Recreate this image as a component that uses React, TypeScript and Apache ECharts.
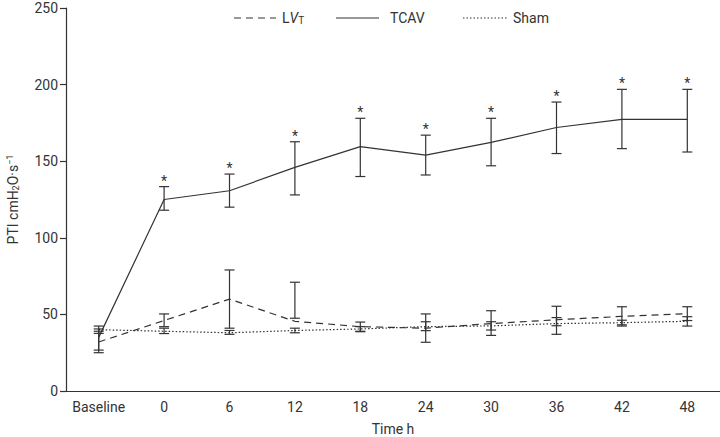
import React, { useEffect, useRef } from "react";
import * as echarts from "echarts";

const categories = ["Baseline", "0", "6", "12", "18", "24", "30", "36", "42", "48"];
const yTicks = [0, 50, 100, 150, 200, 250];

const lvtMean = [32, 46, 60, 45.5, 42, 41, 44, 46.5, 48.7, 50.5];
const lvtLow = [25, 42, 41, 47.5, 39, 31.8, 36.3, 37, 42.4, 46];
const lvtHigh = [39, 50.3, 79, 71, 45, 50.3, 52.4, 55.3, 55, 55];

const tcavMean = [35, 125, 130.7, 146, 159.5, 154, 162.3, 172, 177.3, 177.3];
const tcavLow = [26.7, 118, 120, 128, 140, 141, 147, 155, 158.2, 156];
const tcavHigh = [40.5, 133.4, 141.6, 162.7, 178, 167, 178, 188.6, 196.9, 196.9];

const shamMean = [40, 39, 38, 39.5, 40.5, 42, 42.5, 44, 44.6, 45.5];
const shamLow = [37.6, 37.5, 37, 38, 38.7, 39.4, 39.8, 42.6, 43.2, 42.4];
const shamHigh = [42.4, 41, 39.5, 41, 42, 45.2, 45.2, 47.9, 46.2, 48.5];

const tcavSignificant = [false, true, true, true, true, true, true, true, true, true];

const INK = "#333333";
const FONT = "Roboto";
const LVT_DASH = [7, 5];
const SHAM_DASH = [1.5, 2];

function errorSeries(name: string, low: number[], high: number[], stars?: boolean[]) {
  return {
    type: "custom",
    name: name + "-err",
    z: 5,
    silent: true,
    data: low.map((l, i) => [i, l, high[i], stars && stars[i] ? 1 : 0]),
    renderItem: (params: any, api: any) => {
      const x = api.value(0);
      const lo = api.coord([x, api.value(1)]);
      const hi = api.coord([x, api.value(2)]);
      const hw = 5;
      const style = { stroke: INK, lineWidth: 1.2 };
      const children: any[] = [
        { type: "line", shape: { x1: lo[0], y1: lo[1], x2: hi[0], y2: hi[1] }, style },
        { type: "line", shape: { x1: lo[0] - hw, y1: lo[1], x2: lo[0] + hw, y2: lo[1] }, style },
        { type: "line", shape: { x1: hi[0] - hw, y1: hi[1], x2: hi[0] + hw, y2: hi[1] }, style },
      ];
      if (api.value(3) === 1) {
        children.push({
          type: "text",
          style: {
            text: "*",
            x: hi[0],
            y: hi[1] - 6,
            align: "center",
            verticalAlign: "middle",
            fill: INK,
            font: `14px ${FONT}`,
          },
        });
      }
      return { type: "group", children };
    },
  };
}

function legendItem(x1: number, x2: number, dash: any, textX: number, text: string, rich?: any) {
  const y = 18;
  return [
    {
      type: "line",
      shape: { x1, y1: y, x2, y2: y },
      style: { stroke: INK, lineWidth: 1.2, lineDash: dash },
    },
    {
      type: "text",
      x: textX,
      y,
      style: {
        text,
        fill: INK,
        font: `14px ${FONT}`,
        verticalAlign: "middle",
        align: "left",
        rich,
      },
    },
  ];
}

export default function App() {
  const ref = useRef<HTMLDivElement>(null);
  useEffect(() => {
    if (!ref.current) return;
    const chart = echarts.init(ref.current, undefined, { renderer: "svg" });
    chart.setOption({
      animation: false,
      textStyle: { fontFamily: FONT, color: INK },
      grid: { left: 66, right: 0, top: 8, bottom: 46, outerBoundsMode: "none", containLabel: false },
      graphic: [
        ...legendItem(234, 276, LVT_DASH, 282, "{n|L}{i|V}{s|T}", {
          n: { fontFamily: FONT, fontSize: 14, fill: INK },
          i: { fontFamily: FONT, fontSize: 14, fill: INK, fontStyle: "italic" },
          s: { fontFamily: FONT, fontSize: 10, fill: INK, verticalAlign: "bottom", padding: [4, 0, 0, 0] },
        }),
        ...legendItem(336, 379, null, 390, "TCAV"),
        ...legendItem(463, 507, SHAM_DASH, 513, "Sham"),
      ],
      xAxis: {
        type: "category",
        data: categories,
        boundaryGap: true,
        name: "Time h",
        nameLocation: "middle",
        nameGap: 31,
        nameTextStyle: { fontFamily: FONT, fontSize: 14, color: INK },
        axisLine: { lineStyle: { color: INK, width: 1.2 } },
        axisTick: { alignWithLabel: true, length: 6, lineStyle: { color: INK, width: 1.2 } },
        axisLabel: { fontFamily: FONT, fontSize: 14, color: INK, margin: 9, interval: 0 },
        splitLine: { show: false },
      },
      yAxis: {
        type: "value",
        min: yTicks[0],
        max: yTicks[yTicks.length - 1],
        interval: 50,
        name: "{t|PTI cmH}{sub|2}{t|O·s}{sup|−1}",
        nameLocation: "middle",
        nameRotate: 90,
        nameGap: 46,
        nameTextStyle: {
          fontFamily: FONT,
          fontSize: 14,
          color: INK,
          rich: {
            t: { fontFamily: FONT, fontSize: 14, color: INK },
            sub: { fontFamily: FONT, fontSize: 9, color: INK, verticalAlign: "bottom", padding: [6, 0, 0, 0] },
            sup: { fontFamily: FONT, fontSize: 9, color: INK, verticalAlign: "top", padding: [0, 0, 6, 0] },
          },
        },
        axisLine: { show: true, lineStyle: { color: INK, width: 1.2 } },
        axisTick: { show: true, length: 6, lineStyle: { color: INK, width: 1.2 } },
        axisLabel: { fontFamily: FONT, fontSize: 14, color: INK, margin: 8 },
        splitLine: { show: false },
      },
      series: [
        {
          name: "LVT",
          type: "line",
          data: lvtMean,
          symbol: "none",
          lineStyle: { color: INK, width: 1.2, type: LVT_DASH },
          itemStyle: { color: INK },
          z: 3,
        },
        {
          name: "TCAV",
          type: "line",
          data: tcavMean,
          symbol: "none",
          lineStyle: { color: INK, width: 1.2, type: "solid" },
          itemStyle: { color: INK },
          z: 3,
        },
        {
          name: "Sham",
          type: "line",
          data: shamMean,
          symbol: "none",
          lineStyle: { color: INK, width: 1.2, type: SHAM_DASH },
          itemStyle: { color: INK },
          z: 3,
        },
        errorSeries("LVT", lvtLow, lvtHigh),
        errorSeries("TCAV", tcavLow, tcavHigh, tcavSignificant),
        errorSeries("Sham", shamLow, shamHigh),
      ],
    });
    return () => chart.dispose();
  }, []);
  return <div ref={ref} style={{ width: 720, height: 437, position: "absolute", left: 0, top: 0 }} />;
}
